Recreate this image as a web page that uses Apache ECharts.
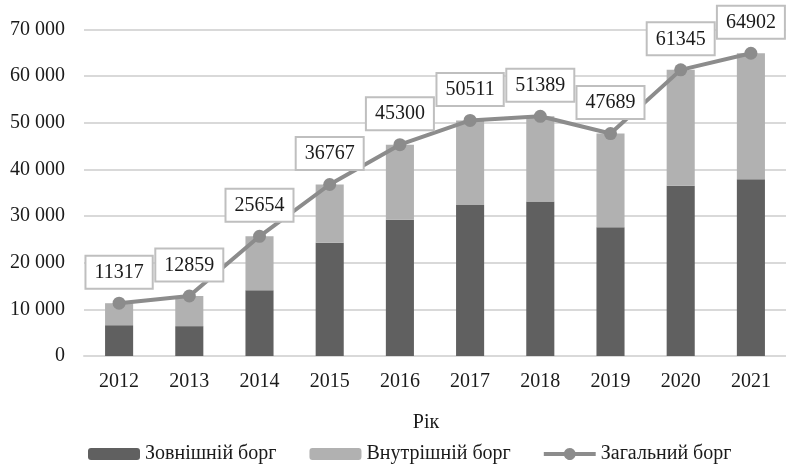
<!DOCTYPE html>
<html>
<head>
<meta charset="utf-8">
<script src="https://cdn.jsdelivr.net/npm/echarts@6/dist/echarts.min.js"></script>
<style>
  html, body { margin: 0; padding: 0; background: #fff; }
  #chart { width: 786px; height: 466px; }
</style>
</head>
<body>
<div id="chart"></div>
<script>
// data
const years = ['2012', '2013', '2014', '2015', '2016', '2017', '2018', '2019', '2020', '2021'];
const externalDebt = [6600, 6400, 14100, 24300, 29200, 32400, 33100, 27600, 36500, 37900];
const internalDebt = [4717, 6459, 11554, 12467, 16100, 18111, 18289, 20089, 24845, 27002];
const totalDebt = [11317, 12859, 25654, 36767, 45300, 50511, 51389, 47689, 61345, 64902];

const font = 'Liberation Serif';
const textColor = '#1a1a1a';

// thick line with a dot in the middle, as in the reference legend
const lineDotIcon = 'path://M0,4H20.34A6,6 0 0 1 31.66,4H52V8H31.66A6,6 0 0 1 20.34,8H0Z';

const chart = echarts.init(document.getElementById('chart'));

const option = {
    animation: false,
    textStyle: { fontFamily: font },
    grid: {
        left: 84,
        right: 0,
        top: 29.5,
        bottom: 110,
        containLabel: false,
    },
    legend: {
        left: 83,
        top: 439,
        itemWidth: 52,
        itemHeight: 12,
        itemGap: 33,
        textStyle: { fontFamily: font, fontSize: 20, color: textColor },
        data: [
            'Зовнішній борг',
            'Внутрішній борг',
            { name: 'Загальний борг', icon: lineDotIcon },
        ],
    },
    xAxis: {
        type: 'category',
        data: years,
        name: 'Рік',
        nameLocation: 'middle',
        nameGap: 57,
        nameTextStyle: { fontFamily: font, fontSize: 20, color: textColor, padding: [0, 18, 0, 0] },
        axisLine: { lineStyle: { color: '#d9d9d9', width: 2 } },
        axisTick: { show: false },
        axisLabel: { fontFamily: font, fontSize: 20, color: textColor, margin: 16 },
    },
    yAxis: {
        type: 'value',
        min: 0,
        max: 70000,
        interval: 10000,
        axisLine: { show: false },
        axisTick: { show: false },
        splitLine: { lineStyle: { color: '#d9d9d9', width: 2 } },
        axisLabel: {
            fontFamily: font,
            fontSize: 20,
            color: textColor,
            margin: 19,
            formatter: (v) => v === 0 ? '0' : String(v).replace(/\B(?=(\d{3})+(?!\d))/g, ' '),
        },
    },
    series: [
        {
            name: 'Зовнішній борг',
            type: 'bar',
            stack: 'debt',
            barWidth: '40%',
            itemStyle: { color: '#606060' },
            data: externalDebt,
        },
        {
            name: 'Внутрішній борг',
            type: 'bar',
            stack: 'debt',
            barWidth: '40%',
            itemStyle: { color: '#b1b1b1' },
            data: internalDebt,
        },
        {
            name: 'Загальний борг',
            type: 'line',
            symbol: 'circle',
            symbolSize: 13,
            lineStyle: { color: '#8c8c8c', width: 4 },
            itemStyle: { color: '#8c8c8c' },
            label: {
                show: true,
                position: 'top',
                distance: 9,
                fontFamily: font,
                fontSize: 20,
                color: textColor,
                backgroundColor: '#fff',
                borderColor: '#bfbfbf',
                borderWidth: 2,
                padding: [5, 8, 4, 8],
                lineHeight: 22,
            },
            z: 5,
            data: totalDebt,
        },
    ],
};

chart.setOption(option);
</script>
</body>
</html>
